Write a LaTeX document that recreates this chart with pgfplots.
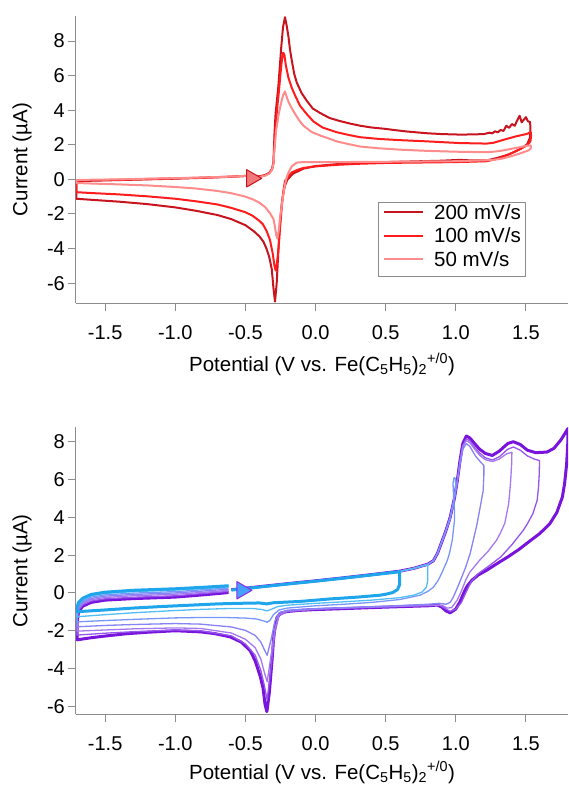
\documentclass[border=0pt]{standalone}
\usepackage{fontspec}
\setmainfont{Liberation Sans}
\usepackage{pgfplots}
\pgfplotsset{compat=1.18}

\definecolor{axgray}{HTML}{8C8C8C}
\definecolor{r200}{HTML}{C8141E}
\definecolor{r100}{HTML}{FF1C1C}
\definecolor{r50}{HTML}{FF8C8C}
\definecolor{arrred}{HTML}{F07878}
\definecolor{b06}{HTML}{1EA5EB}
\definecolor{b08}{HTML}{50BEF5}
\definecolor{b10}{HTML}{7896FA}
\definecolor{b12}{HTML}{8782F5}
\definecolor{b14}{HTML}{A578F0}
\definecolor{b16}{HTML}{9655EB}
\definecolor{b18}{HTML}{7814DC}
\definecolor{arrblue}{HTML}{46A0FF}
\definecolor{arrpurp}{HTML}{8C28E6}

\newcommand\tk{\fontsize{20}{24}\selectfont}
\newcommand\lb{\fontsize{20.5}{24}\selectfont}

\pgfplotsset{cv/.style={
  scale only axis, width=492pt, height=287pt,
  xmin=-1.708, xmax=1.80,
  axis x line*=bottom, axis y line*=left,
  axis line style={draw=axgray, line width=1pt},
  tick align=outside, major tick length=8pt,
  tick style={draw=axgray, line width=1pt},
  xtick={-1.5,-1,-0.5,0,0.5,1,1.5},
  xticklabels={-1.5,-1.0,-0.5,0.0,0.5,1.0,1.5},
  ytick={-6,-4,-2,0,2,4,6,8},
  yticklabels={-6,-4,-2,0,2,4,6,8},
  tick label style={font=\tk},
  xticklabel style={anchor=base, yshift=-28pt},
  yticklabel style={anchor=east, inner sep=0pt, xshift=-3pt},
  xlabel={Potential (V vs. Fe(C\textsubscript{5}H\textsubscript{5})\textsubscript{2}\textsuperscript{+/0})},
  ylabel={Current (µA)},
  every axis y label/.style={at={([xshift=-54pt]axis description cs:0,0.5)}, rotate=90, anchor=center, font=\lb},
  every axis x label/.style={at={([yshift=-68pt]axis description cs:0.5,0)}, anchor=base, font=\lb},
  line join=round,
}}

\begin{document}
\begin{tikzpicture}
\useasboundingbox (-76pt,-484pt) rectangle (492pt,303pt);

% ---------- top panel: scan rates ----------
\begin{axis}[cv,
  ymin=-7.15, ymax=9.45,
  legend style={at={(axis description cs:0.6144,0.353)}, anchor=north west,
    draw=axgray, line width=0.8pt, fill=white, inner xsep=4.5pt, inner ysep=2pt,
    font=\lb, nodes={inner sep=0pt, text height=15.5pt, text depth=7.8pt},
    /tikz/every odd column/.append style={column sep=10pt}},
  legend cell align=left,
  legend image code/.code={\draw[#1, line width=2pt] (0pt,3.5pt) -- (39pt,3.5pt);},
]
\addplot[r200, line width=2pt] coordinates {
(-0.48,0.14) (-0.44,0.15) (-0.40,0.18) (-0.36,0.25) (-0.33,0.38) (-0.31,0.6) (-0.30,1.0) (-0.297,1.6) (-0.293,2.6) (-0.285,3.8) (-0.275,4.6) (-0.265,5.4) (-0.255,6.5) (-0.245,7.6) (-0.232,8.8) (-0.218,9.38) (-0.206,8.9) (-0.194,8.3) (-0.182,7.5) (-0.17,6.9) (-0.152,6.1) (-0.134,5.6) (-0.10,5.0) (-0.063,4.55) (-0.02,4.1) (0.03,3.85) (0.1,3.55) (0.17,3.38) (0.25,3.22) (0.32,3.1) (0.4,3.0) (0.5,2.92) (0.555,2.86) (0.65,2.77) (0.79,2.67) (0.9,2.62) (1.03,2.59) (1.12,2.6) (1.2,2.62) (1.24,2.7) (1.26,2.66) (1.28,2.78) (1.30,2.72) (1.32,2.86) (1.34,2.8) (1.36,3.1) (1.38,2.98) (1.40,3.2) (1.42,3.1) (1.44,3.45) (1.455,3.68) (1.47,3.3) (1.482,3.42) (1.50,3.6) (1.515,3.35) (1.53,3.32)
(1.532,2.9) (1.528,2.4) (1.51,2.05) (1.47,1.8) (1.435,1.65) (1.38,1.45) (1.317,1.29) (1.26,1.17) (1.22,1.1) (1.1,1.1) (1.03,1.13) (0.9,1.08) (0.7,1.04) (0.5,1.0) (0.317,0.97) (0.15,0.88) (0.0,0.77) (-0.087,0.62) (-0.13,0.45) (-0.16,0.33) (-0.2,0.0) (-0.22,-0.4) (-0.241,-1.4) (-0.255,-2.7) (-0.265,-4.1) (-0.277,-6.0) (-0.289,-7.07) (-0.30,-6.3) (-0.312,-5.2) (-0.33,-4.5) (-0.35,-4.0) (-0.372,-3.6) (-0.40,-3.3) (-0.44,-3.0) (-0.5,-2.65) (-0.6,-2.3) (-0.7,-2.06) (-0.85,-1.82) (-1.0,-1.62) (-1.2,-1.43) (-1.4,-1.29) (-1.6,-1.18) (-1.705,-1.12)
(-1.705,-0.1) (-1.6,-0.08) (-1.4,-0.04) (-1.2,0.0) (-1.0,0.04) (-0.8,0.09) (-0.6,0.15) (-0.5,0.2)
};
\addlegendentry{200 mV/s}
\addplot[r100, line width=2pt] coordinates {
(-0.48,0.12) (-0.44,0.13) (-0.40,0.16) (-0.36,0.23) (-0.33,0.36) (-0.31,0.58) (-0.30,0.95) (-0.296,1.6) (-0.29,2.5) (-0.282,3.4) (-0.27,4.4) (-0.26,5.2) (-0.25,6.1) (-0.24,6.9) (-0.231,7.33) (-0.222,7.2) (-0.212,6.6) (-0.194,5.9) (-0.17,5.3) (-0.14,4.75) (-0.11,4.25) (-0.06,3.75) (-0.015,3.35) (0.05,3.0) (0.15,2.73) (0.23,2.58) (0.317,2.44) (0.45,2.34) (0.6,2.27) (0.79,2.2) (1.03,2.1) (1.22,2.07) (1.27,2.12) (1.32,2.24) (1.38,2.38) (1.435,2.5) (1.48,2.58) (1.507,2.63) (1.535,2.73)
(1.537,2.5) (1.532,2.2) (1.51,1.98) (1.47,1.8) (1.435,1.67) (1.38,1.45) (1.32,1.25) (1.26,1.12) (1.22,1.05) (1.1,1.02) (1.0,1.0) (0.8,0.98) (0.5,0.95) (0.3,0.9) (0.15,0.84) (0.0,0.75) (-0.087,0.66) (-0.13,0.55) (-0.17,0.4) (-0.195,0.15) (-0.218,-0.1) (-0.232,-0.8) (-0.241,-1.6) (-0.253,-2.8) (-0.265,-4.1) (-0.276,-4.9) (-0.284,-5.28) (-0.293,-5.0) (-0.305,-4.3) (-0.325,-3.5) (-0.348,-3.0) (-0.375,-2.6) (-0.40,-2.4) (-0.45,-2.1) (-0.5,-1.9) (-0.6,-1.65) (-0.7,-1.45) (-0.85,-1.27) (-1.0,-1.12) (-1.2,-0.98) (-1.4,-0.87) (-1.6,-0.79) (-1.705,-0.74)
(-1.705,-0.07) (-1.6,-0.05) (-1.4,-0.02) (-1.2,0.02) (-1.0,0.06) (-0.8,0.1) (-0.6,0.16) (-0.5,0.2)
};
\addlegendentry{100 mV/s}
\addplot[r50, line width=2pt] coordinates {
(-0.48,0.1) (-0.44,0.11) (-0.40,0.14) (-0.36,0.21) (-0.33,0.34) (-0.31,0.55) (-0.30,0.9) (-0.295,1.5) (-0.288,2.2) (-0.28,2.9) (-0.27,3.4) (-0.262,3.8) (-0.25,4.25) (-0.24,4.6) (-0.23,4.9) (-0.218,5.08) (-0.207,4.8) (-0.194,4.5) (-0.175,4.2) (-0.158,3.95) (-0.12,3.45) (-0.087,3.11) (-0.03,2.75) (0.032,2.54) (0.1,2.35) (0.15,2.2) (0.23,2.05) (0.317,1.9) (0.45,1.8) (0.6,1.72) (0.79,1.65) (1.0,1.6) (1.22,1.57) (1.27,1.6) (1.32,1.65) (1.38,1.74) (1.435,1.83) (1.48,1.9) (1.507,1.95) (1.535,1.96)
(1.535,1.8) (1.52,1.68) (1.5,1.62) (1.45,1.48) (1.387,1.32) (1.33,1.2) (1.27,1.13) (1.2,1.1) (1.0,1.05) (0.7,1.03) (0.4,1.01) (0.1,1.0) (-0.087,1.0) (-0.134,0.97) (-0.17,0.75) (-0.19,0.45) (-0.205,0.13) (-0.218,-0.3) (-0.23,-0.83) (-0.242,-1.6) (-0.253,-2.2) (-0.263,-3.0) (-0.272,-3.42) (-0.28,-3.25) (-0.29,-2.7) (-0.30,-2.3) (-0.325,-1.95) (-0.36,-1.6) (-0.40,-1.35) (-0.443,-1.17) (-0.5,-1.0) (-0.6,-0.8) (-0.7,-0.67) (-0.85,-0.53) (-1.0,-0.44) (-1.2,-0.35) (-1.4,-0.29) (-1.6,-0.24) (-1.705,-0.21)
(-1.705,-0.04) (-1.6,-0.02) (-1.4,0.0) (-1.2,0.04) (-1.0,0.07) (-0.8,0.11) (-0.6,0.16) (-0.5,0.2)
};
\addlegendentry{50 mV/s}
\addplot[forget plot, only marks, mark=triangle*, mark size=10pt,
  mark options={rotate=-90, fill=arrred, draw=r200, line width=1pt}] coordinates {(-0.455,0.06)};
\end{axis}

% ---------- bottom panel: switching potentials ----------
\begin{axis}[cv, at={(0,-411.3pt)},
  ymin=-6.42, ymax=8.76,
  every axis x label/.style={at={([yshift=-65pt]axis description cs:0.5,0)}, anchor=base, font=\lb},
]
% 1.8 V
\addplot[b18, line width=3pt] coordinates {
(-0.6,0.17) (-0.4,0.33) (-0.2,0.49) (0.0,0.64) (0.2,0.8) (0.4,0.97) (0.6,1.15) (0.7,1.3) (0.8,1.52) (0.84,1.7) (0.87,2.1) (0.9,2.7) (0.93,3.3) (0.96,4.0) (0.99,5.0) (1.01,5.9) (1.03,7.0) (1.05,7.9) (1.075,8.3) (1.1,8.2) (1.14,7.85) (1.17,7.6) (1.21,7.38) (1.26,7.27) (1.31,7.5) (1.37,7.9) (1.41,8.0) (1.46,7.85) (1.51,7.55) (1.57,7.42) (1.65,7.45) (1.7,7.65) (1.75,8.1) (1.8,8.7)
(1.798,7.8) (1.79,6.8) (1.776,5.8) (1.76,5.07) (1.72,4.25) (1.67,3.66) (1.6,3.15) (1.52,2.7) (1.45,2.3) (1.37,1.9) (1.3,1.58) (1.22,1.2) (1.16,0.95) (1.115,0.67) (1.085,0.4) (1.065,0.14) (1.045,-0.2) (1.03,-0.47) (1.0,-0.85) (0.96,-1.05) (0.93,-0.95) (0.9,-0.75) (0.87,-0.64) (0.8,-0.68) (0.5,-0.75) (0.2,-0.83) (0.0,-0.88) (-0.11,-0.92) (-0.2,-0.98) (-0.25,-1.07) (-0.275,-1.3) (-0.29,-1.8) (-0.3,-2.5) (-0.31,-3.55) (-0.33,-5.3) (-0.347,-6.28) (-0.36,-5.9) (-0.375,-5.0) (-0.395,-4.4) (-0.43,-3.6) (-0.466,-3.05) (-0.53,-2.6) (-0.61,-2.32) (-0.72,-2.15) (-0.82,-2.06) (-1.0,-2.0) (-1.2,-2.08) (-1.35,-2.16) (-1.5,-2.28) (-1.6,-2.37) (-1.7,-2.48)
(-1.70,-1.6) (-1.69,-1.0) (-1.66,-0.7) (-1.6,-0.5) (-1.5,-0.38) (-1.3,-0.3) (-1.0,-0.22) (-0.8,-0.1) (-0.62,0.02)
};
% 1.6 V
\addplot[b16, line width=1.3pt] coordinates {
(-0.6,0.17) (-0.4,0.33) (-0.2,0.49) (0.0,0.64) (0.2,0.8) (0.4,0.97) (0.6,1.15) (0.7,1.3) (0.8,1.52) (0.84,1.7) (0.87,2.1) (0.9,2.7) (0.93,3.3) (0.96,4.0) (0.99,5.0) (1.01,5.9) (1.03,7.0) (1.05,7.8) (1.075,8.15) (1.1,8.05) (1.14,7.65) (1.17,7.4) (1.21,7.15) (1.26,7.03) (1.31,7.2) (1.37,7.6) (1.41,7.72) (1.46,7.55) (1.51,7.25) (1.56,7.08) (1.597,7.0)
(1.595,6.3) (1.59,5.6) (1.58,4.9) (1.55,4.2) (1.51,3.65) (1.48,3.3) (1.4,2.55) (1.32,1.9) (1.24,1.45) (1.16,1.02) (1.11,0.6) (1.08,0.14) (1.04,-0.5) (1.0,-0.85) (0.96,-0.98) (0.92,-0.8) (0.88,-0.63) (0.8,-0.67) (0.5,-0.74) (0.2,-0.81) (0.0,-0.87) (-0.2,-0.98) (-0.26,-1.2) (-0.29,-2.1) (-0.315,-3.8) (-0.345,-5.66) (-0.365,-4.9) (-0.39,-4.1) (-0.43,-3.3) (-0.5,-2.7) (-0.6,-2.27) (-0.82,-2.0) (-1.0,-1.96) (-1.3,-2.05) (-1.5,-2.13) (-1.7,-2.23)
(-1.70,-1.46) (-1.69,-0.92) (-1.66,-0.63) (-1.6,-0.43) (-1.5,-0.31) (-1.3,-0.23) (-1.0,-0.15) (-0.8,-0.03) (-0.62,0.08)
};
% 1.4 V
\addplot[b14, line width=1.3pt] coordinates {
(-0.6,0.16) (-0.4,0.32) (-0.2,0.48) (0.0,0.63) (0.2,0.8) (0.4,0.97) (0.6,1.15) (0.7,1.3) (0.8,1.52) (0.84,1.7) (0.87,2.1) (0.9,2.7) (0.93,3.3) (0.96,4.0) (0.99,5.0) (1.01,5.9) (1.03,6.95) (1.05,7.75) (1.075,8.05) (1.1,7.95) (1.14,7.55) (1.17,7.28) (1.21,7.05) (1.26,6.95) (1.31,7.08) (1.36,7.35) (1.40,7.44)
(1.398,6.8) (1.39,5.8) (1.377,4.72) (1.35,3.7) (1.32,3.2) (1.29,2.78) (1.23,2.2) (1.17,1.73) (1.1,1.1) (1.07,0.67) (1.04,0.1) (1.01,-0.38) (0.97,-0.78) (0.94,-0.8) (0.9,-0.65) (0.8,-0.66) (0.5,-0.73) (0.2,-0.8) (0.0,-0.86) (-0.2,-0.96) (-0.26,-1.15) (-0.29,-1.9) (-0.315,-3.2) (-0.345,-4.7) (-0.365,-4.2) (-0.39,-3.5) (-0.43,-2.9) (-0.5,-2.45) (-0.6,-2.12) (-0.82,-1.88) (-1.0,-1.85) (-1.3,-1.9) (-1.5,-1.96) (-1.7,-2.02)
(-1.70,-1.32) (-1.69,-0.83) (-1.66,-0.56) (-1.6,-0.36) (-1.5,-0.24) (-1.3,-0.15) (-1.0,-0.07) (-0.8,0.03) (-0.62,0.14)
};
% 1.2 V
\addplot[b12, line width=1.3pt] coordinates {
(-0.6,0.16) (-0.4,0.32) (-0.2,0.48) (0.0,0.63) (0.2,0.79) (0.4,0.96) (0.6,1.14) (0.7,1.3) (0.8,1.51) (0.84,1.7) (0.87,2.1) (0.9,2.7) (0.93,3.3) (0.96,4.0) (0.99,5.0) (1.01,5.85) (1.03,6.8) (1.05,7.6) (1.075,7.9) (1.1,7.75) (1.14,7.25) (1.17,6.98) (1.2,6.74)
(1.2,6.2) (1.195,5.4) (1.174,4.54) (1.15,3.6) (1.125,2.8) (1.102,2.08) (1.07,1.35) (1.043,0.85) (1.01,0.25) (0.983,-0.21) (0.96,-0.5) (0.93,-0.6) (0.88,-0.55) (0.8,-0.6) (0.5,-0.7) (0.2,-0.78) (0.0,-0.83) (-0.2,-0.92) (-0.26,-1.05) (-0.29,-1.5) (-0.315,-2.4) (-0.345,-3.3) (-0.365,-3.0) (-0.39,-2.6) (-0.43,-2.25) (-0.5,-1.98) (-0.6,-1.8) (-0.82,-1.65) (-1.0,-1.62) (-1.3,-1.67) (-1.5,-1.72) (-1.7,-1.79)
(-1.70,-1.18) (-1.69,-0.75) (-1.66,-0.49) (-1.6,-0.29) (-1.5,-0.17) (-1.3,-0.08) (-1.0,0.0) (-0.8,0.1) (-0.62,0.2)
};
% 1.0 V
\addplot[b10, line width=1.3pt] coordinates {
(-0.6,0.16) (-0.4,0.32) (-0.2,0.48) (0.0,0.63) (0.2,0.79) (0.4,0.96) (0.6,1.14) (0.7,1.3) (0.8,1.51) (0.84,1.7) (0.87,2.1) (0.9,2.7) (0.93,3.3) (0.96,3.9) (0.99,5.1) (1.0,5.6)
(0.997,6.05) (0.988,6.1) (0.98,5.8) (0.985,5.0) (0.99,4.4) (0.99,3.8) (0.975,2.8) (0.955,2.1) (0.94,1.73) (0.9,1.05) (0.875,0.67) (0.84,0.3) (0.8,0.08) (0.745,-0.12) (0.6,-0.35) (0.4,-0.5) (0.2,-0.6) (0.0,-0.68) (-0.2,-0.8) (-0.26,-0.9) (-0.3,-1.15) (-0.325,-1.45) (-0.345,-1.55) (-0.37,-1.48) (-0.42,-1.38) (-0.5,-1.33) (-0.65,-1.3) (-0.82,-1.3) (-1.0,-1.32) (-1.3,-1.4) (-1.5,-1.46) (-1.7,-1.53)
(-1.70,-1.03) (-1.69,-0.67) (-1.66,-0.42) (-1.6,-0.22) (-1.5,-0.10) (-1.3,-0.01) (-1.0,0.07) (-0.8,0.17) (-0.62,0.26)
};
% 0.8 V
\addplot[b08, line width=1.3pt] coordinates {
(-0.6,0.15) (-0.4,0.31) (-0.2,0.47) (0.0,0.62) (0.2,0.79) (0.4,0.96) (0.6,1.14) (0.7,1.29) (0.8,1.5)
(0.8,1.2) (0.8,0.65) (0.79,0.3) (0.76,0.05) (0.7,-0.12) (0.6,-0.25) (0.4,-0.38) (0.2,-0.47) (0.0,-0.55) (-0.2,-0.65) (-0.27,-0.72) (-0.31,-0.85) (-0.345,-0.95) (-0.38,-0.88) (-0.45,-0.82) (-0.6,-0.82) (-0.82,-0.87) (-1.0,-0.93) (-1.3,-1.05) (-1.5,-1.15) (-1.7,-1.26)
(-1.70,-0.89) (-1.69,-0.58) (-1.66,-0.35) (-1.6,-0.15) (-1.5,-0.03) (-1.3,0.07) (-1.0,0.15) (-0.8,0.23) (-0.62,0.32)
};
% 0.6 V
\addplot[b06, line width=3pt] coordinates {
(-0.6,0.15) (-0.4,0.31) (-0.2,0.47) (0.0,0.62) (0.2,0.78) (0.4,0.95) (0.6,1.12)
(0.6,0.9) (0.6,0.45) (0.585,0.18) (0.55,0.02) (0.5,-0.07) (0.46,-0.12) (0.3,-0.22) (0.1,-0.32) (-0.11,-0.45) (-0.25,-0.5) (-0.3,-0.52) (-0.35,-0.58) (-0.4,-0.53) (-0.55,-0.55) (-0.7,-0.58) (-0.9,-0.65) (-1.1,-0.72) (-1.3,-0.8) (-1.5,-0.9) (-1.65,-0.97) (-1.70,-1.0)
(-1.70,-0.75) (-1.69,-0.5) (-1.66,-0.28) (-1.6,-0.08) (-1.5,0.04) (-1.3,0.14) (-1.0,0.22) (-0.8,0.3) (-0.62,0.38)
};
\addplot[only marks, mark=triangle*, mark size=10pt,
  mark options={rotate=-90, fill=arrblue, draw=arrpurp, line width=1pt}] coordinates {(-0.525,0.14)};
\end{axis}
\end{tikzpicture}
\end{document}
